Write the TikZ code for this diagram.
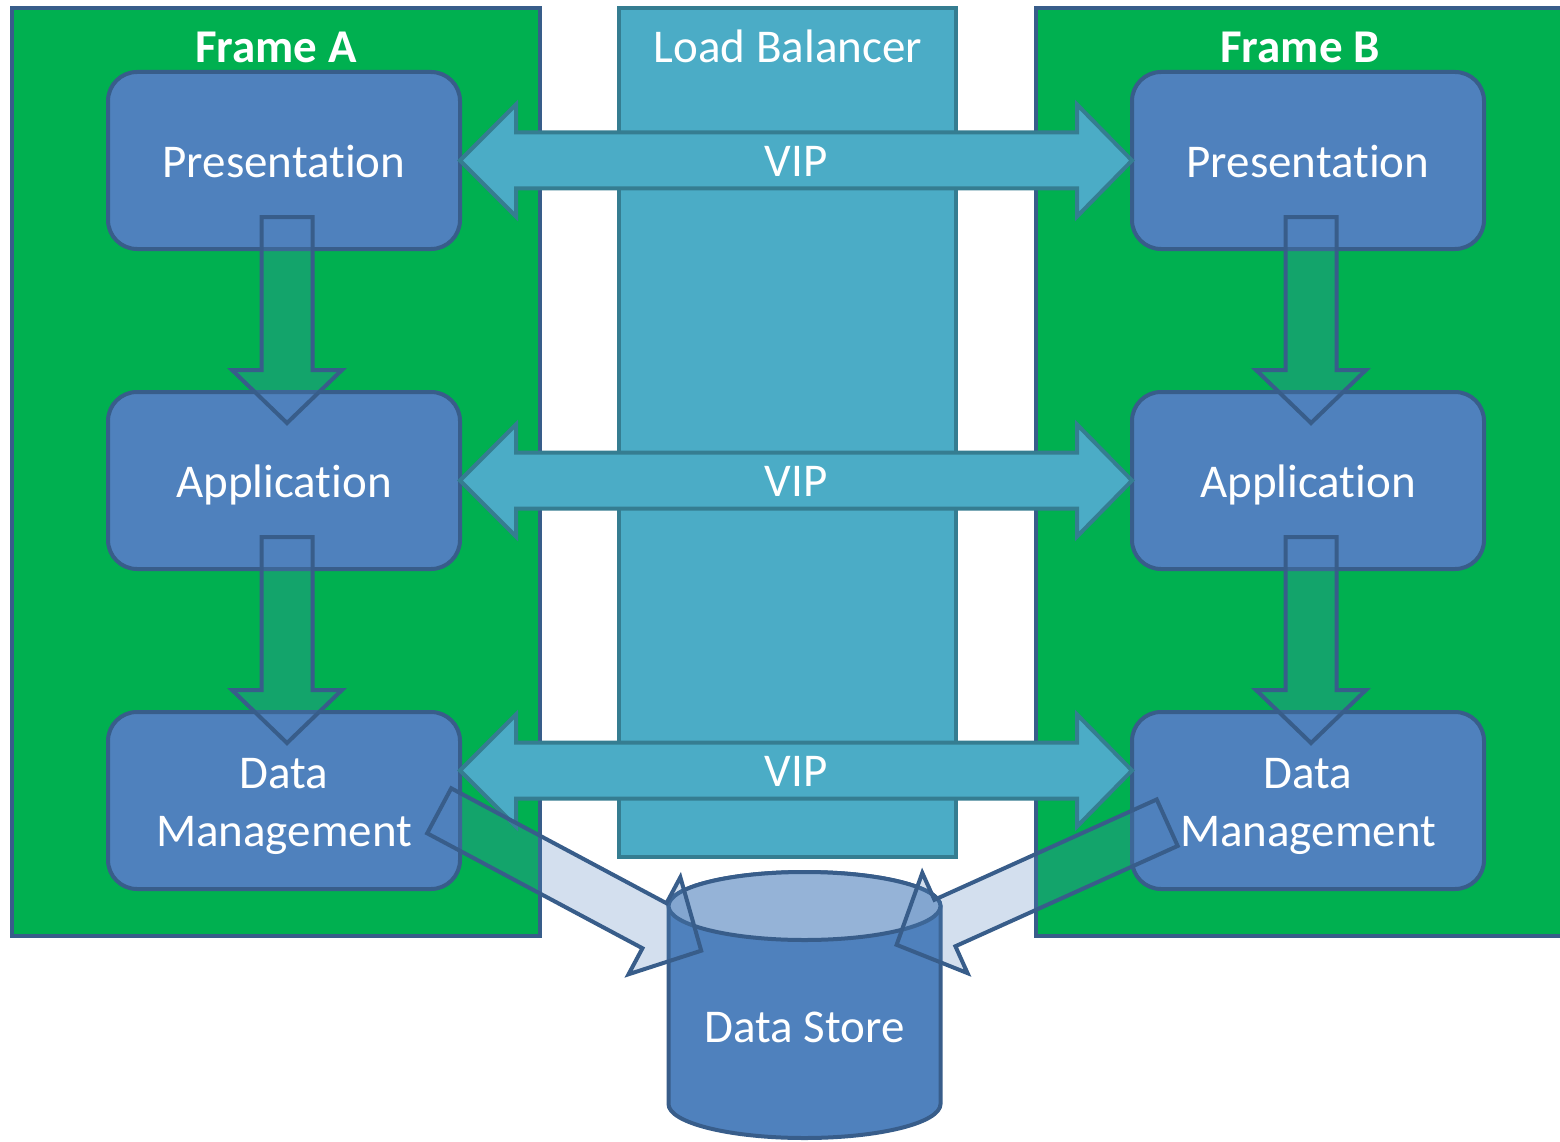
\documentclass[tikz,border=0pt]{standalone}
\usepackage{fontspec}
\setmainfont{Carlito}[Ligatures=NoCommon]
\usetikzlibrary{calc}
\definecolor{framegreen}{HTML}{00B050}
\definecolor{boxblue}{HTML}{4F81BD}
\definecolor{boxline}{HTML}{385D8A}
\definecolor{lbteal}{HTML}{4BACC6}
\definecolor{lbline}{HTML}{357D91}
\definecolor{toplight}{HTML}{95B3D7}
% block arrow: #1 style, #2 tail, #3 tip, #4 shaft half width, #5 head half width
\newcommand\fatarrow[5]{%
  \coordinate (fa-h) at ($(#3)!53pt!(#2)$);
  \draw[#1] ($(#2)!#4!90:(#3)$) -- ($(fa-h)!#4!90:(#3)$) -- ($(fa-h)!#5!90:(#3)$)
    -- (#3) -- ($(fa-h)!#5!-90:(#3)$) -- ($(fa-h)!#4!-90:(#3)$) -- ($(#2)!#4!-90:(#3)$) -- cycle;}
% double block arrow: #1 left tip, #2 right tip, #3 label name, #4 label
\newcommand\viparrow[4]{%
  \draw[vip] (#1) -- ++(56,-56) -- ++(0,28) -- ($(#2)+(-55,-28)$) -- ++(0,-28) -- (#2)
    -- ++(-55,56) -- ++(0,-28) -- ($(#1)+(56,28)$) -- ++(0,28) -- cycle;
  \node[lbl, text height=32pt] (#3) at ($(#1)!0.5!(#2)$) {#4};}
\begin{document}
\begin{tikzpicture}[x=1pt,y=-1pt,
  frame/.style={draw=boxline, line width=4pt, fill=framegreen, minimum width=528pt, minimum height=928pt, inner sep=0pt, outer sep=0pt},
  lb/.style={draw=lbline, line width=4pt, fill=lbteal, minimum width=337pt, minimum height=849pt, inner sep=0pt, outer sep=0pt},
  title/.style={text=white, font=\fontsize{47}{56}\selectfont\bfseries, text height=30pt, text depth=0pt, inner sep=0pt},
  lbl/.style={text=white, font=\fontsize{47}{56}\selectfont, text height=30pt, text depth=0pt, inner sep=0pt},
  box/.style={draw=boxline, line width=4pt, fill=boxblue, rounded corners=29pt, minimum width=352pt, minimum height=177pt, inner sep=0pt, outer sep=0pt, text=white, font=\fontsize{47}{58}\selectfont, text height=34pt, text depth=0pt, align=center},
  twoline/.style={text height=91pt, text depth=0pt},
  vip/.style={draw=lbline, line width=4pt, fill=lbteal, line join=miter},
  flow/.style={draw=boxline, line width=4pt, fill=boxblue, fill opacity=0.25, draw opacity=1, line join=miter},
  cyl/.style={draw=boxline, line width=4pt, fill=boxblue},
  cyltop/.style={draw=boxline, line width=4pt, fill=toplight}
]
\useasboundingbox (0,0) rectangle (1560,1142);
\clip (0,0) rectangle (1560,1142);
% frames
\node[frame] (frameA) at (276,472) {};
\node[frame] (frameB) at (1300,472) {};
\node[title] (titleA) at (276,48) {Frame A};
\node[title] (titleB) at (1300,48) {Frame B};
% load balancer
\node[lb] (lbal) at (787.5,432.5) {};
\node[lbl] (lbtitle) at (788,48) {Load Balancer};
% tier boxes
\node[box] (presA) at (284,160.5) {Presentation};
\node[box] (appA) at (284,480.5) {Application};
\node[box, twoline] (dmA) at (284,800.5) {Data\\Management};
\node[box] (presB) at (1308,160.5) {Presentation};
\node[box] (appB) at (1308,480.5) {Application};
\node[box, twoline] (dmB) at (1308,800.5) {Data\\Management};
% VIP arrows
\coordinate (v3L) at ($(dmA.east)+(0,-30)$);
\coordinate (v3R) at ($(dmB.west)+(0,-30)$);
\viparrow{presA.east}{presB.west}{vip1}{VIP}
\viparrow{appA.east}{appB.west}{vip2}{VIP}
\viparrow{v3L}{v3R}{vip3}{VIP}
% down arrows
\coordinate (a1t) at (287,217); \coordinate (a1h) at (287,423);
\coordinate (a2t) at (287,537); \coordinate (a2h) at (287,743);
\coordinate (b1t) at (1311,217); \coordinate (b1h) at (1311,423);
\coordinate (b2t) at (1311,537); \coordinate (b2h) at (1311,743);
\fatarrow{flow}{a1t}{a1h}{25.5pt}{55pt}
\fatarrow{flow}{a2t}{a2h}{25.5pt}{55pt}
\fatarrow{flow}{b1t}{b1h}{25.5pt}{55pt}
\fatarrow{flow}{b2t}{b2h}{25.5pt}{55pt}
% data store cylinder
\draw[cyl] (668.5,906) -- (668.5,1104) arc (180:360:136pt and 34pt) -- (940.5,906) arc (0:180:136pt and 34pt) -- cycle;
\draw[cyltop] (804.5,906) ellipse [x radius=136pt, y radius=34pt];
\node[lbl] (ds) at (804.5,1027) {Data Store};
% arrows into the data store
\coordinate (dAt) at (439.2,810.8); \coordinate (dAh) at (701.2,950.7);
\coordinate (dBt) at (1167.2,822.7); \coordinate (dBh) at (896.6,944.8);
\fatarrow{flow}{dAt}{dAh}{25.5pt}{55pt}
\fatarrow{flow}{dBt}{dBh}{25.5pt}{55pt}
\end{tikzpicture}
\end{document}
